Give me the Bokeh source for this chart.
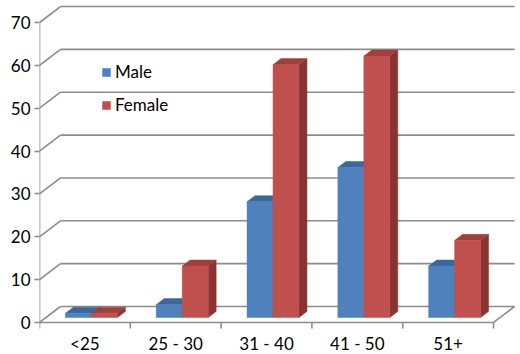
from bokeh.plotting import figure
from bokeh.models import Range1d, FixedTicker, Legend, LegendItem
from bokeh.core.properties import value
from bokeh.embed import file_html
from bokeh.resources import INLINE

categories = ["<25", "25 - 30", "31 - 40", "41 - 50", "51+"]
male = [1, 3, 27, 35, 12]
female = [1, 12, 59, 61, 18]
y_ticks = [0, 10, 20, 30, 40, 50, 60, 70]

# 3D geometry (in data units)
n = len(categories)
DX = 0.231      # depth shift along x (categories)
DY = 3.73       # depth shift along y (value units)
F0, F1 = 0.31, 0.69   # bar front/back depth fractions
GAP = 0.214
BW = 0.286
YMAX = 70
TICK = -1.4     # x tick length below floor (value units)
LABEL_Y = -4.9  # category label position (value units)

p = figure(width=520, height=354, output_backend="svg", toolbar_location=None,
           x_range=Range1d(0, 5.297), y_range=Range1d(-7.47, 74.9),
           min_border_left=39, min_border_right=0, min_border_top=1, min_border_bottom=0)
p.outline_line_color = None
p.xgrid.visible = False
p.ygrid.visible = False
p.xaxis.visible = False
p.background_fill_color = "white"

GRID = "#8c8c8c"
# back wall gridlines and left wall diagonals
gx0 = [DX] * len(y_ticks)
gx1 = [n + DX] * len(y_ticks)
gy = [v + DY for v in y_ticks]
p.segment(x0=gx0, y0=gy, x1=gx1, y1=gy, line_color=GRID, line_width=1.6)
p.segment(x0=[0] * len(y_ticks), y0=y_ticks, x1=gx0, y1=gy, line_color=GRID, line_width=1.6)
# floor front & right edges, left axis edge
p.segment(x0=[0, n, 0], y0=[0, 0, TICK], x1=[n, n + DX, 0], y1=[0, DY, YMAX],
          line_color=GRID, line_width=1.6)
# category ticks
p.segment(x0=list(range(1, n + 1)), y0=[0] * n, x1=list(range(1, n + 1)), y1=[TICK] * n,
          line_color=GRID, line_width=1.6)

male_c = ("#4f81bd", "#3c679c", "#385d8a")
female_c = ("#c0504d", "#a03f3c", "#8a3432")

def bar_faces(vals, offset):
    fx, fy, tx, ty, sx, sy = [], [], [], [], [], []
    ddx = (F1 - F0) * DX
    ddy = (F1 - F0) * DY
    for i, v in enumerate(vals):
        x0 = i + offset + F0 * DX
        x1 = x0 + BW
        b = F0 * DY
        t = b + v
        fx.append([x0, x1, x1, x0]); fy.append([b, b, t, t])
        tx.append([x0, x1, x1 + ddx, x0 + ddx]); ty.append([t, t, t + ddy, t + ddy])
        sx.append([x1, x1 + ddx, x1 + ddx, x1]); sy.append([b, b + ddy, t + ddy, t])
    return fx, fy, tx, ty, sx, sy

renderers = {}
for name, vals, off, cols in [("Male", male, GAP, male_c), ("Female", female, GAP + BW, female_c)]:
    fx, fy, tx, ty, sx, sy = bar_faces(vals, off)
    p.patches(sx, sy, fill_color=cols[2], line_color=cols[2], line_width=0.5)
    p.patches(tx, ty, fill_color=cols[1], line_color=cols[1], line_width=0.5)
    renderers[name] = p.patches(fx, fy, fill_color=cols[0], line_color=cols[0], line_width=0.5)

FONT = "Lato"
FS = "17px"
# category labels
p.text(x=[i + 0.5 for i in range(n)], y=[LABEL_Y] * n, text=categories,
       text_font=value(FONT), text_font_size=FS, text_color="#000000",
       text_align="center", text_baseline="middle")

# y axis
p.yaxis.ticker = FixedTicker(ticks=y_ticks)
p.yaxis.axis_line_color = None
p.yaxis.major_tick_line_color = GRID
p.yaxis.major_tick_line_width = 1.6
p.yaxis.major_tick_out = 5
p.yaxis.major_tick_in = 0
p.yaxis.minor_tick_line_color = None
p.yaxis.major_label_text_font = FONT
p.yaxis.major_label_text_font_size = FS
p.yaxis.major_label_text_color = "#000000"
p.yaxis.major_label_standoff = 4

legend = Legend(items=[LegendItem(label="Male", renderers=[renderers["Male"]]),
                       LegendItem(label="Female", renderers=[renderers["Female"]])],
                location=(62, 239), orientation="vertical")
legend.border_line_color = None
legend.background_fill_alpha = 0
legend.padding = 0
legend.margin = 0
legend.spacing = 12
legend.glyph_width = 10
legend.glyph_height = 10
legend.label_height = 20
legend.label_standoff = 4
legend.label_text_font = FONT
legend.label_text_font_size = FS
legend.label_text_color = "#000000"
p.add_layout(legend)

open("out.html", "w").write(file_html(p, INLINE))
